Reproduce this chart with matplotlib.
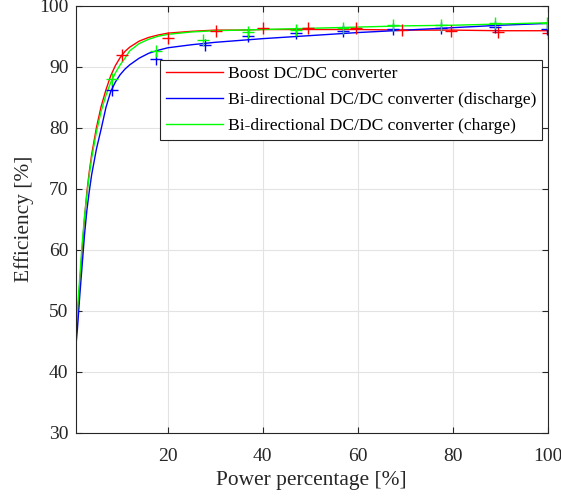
import numpy as np
import matplotlib
matplotlib.use('Agg')
import matplotlib.pyplot as plt

plt.rc('font', family='Liberation Serif', size=14)

# Measured points (markers)
boost_x = [10.3, 20.0, 30.2, 40.0, 49.6, 59.6, 69.4, 79.6, 89.6, 100.0]
boost_y = [91.9, 94.7, 95.9, 96.4, 96.4, 96.4, 96.1, 95.9, 95.7, 95.5]
dis_x = [8.2, 17.6, 27.8, 36.9, 47.0, 57.0, 67.5, 77.6, 88.8, 99.9]
dis_y = [86.2, 91.2, 93.6, 95.0, 95.6, 95.8, 96.2, 96.4, 96.5, 96.2]
chg_x = [8.2, 17.6, 27.4, 36.9, 47.0, 57.0, 67.5, 77.6, 88.8, 99.9]
chg_y = [88.0, 92.5, 94.3, 95.7, 96.1, 96.4, 96.8, 96.9, 97.1, 97.1]

# Fitted curves
curve_x = [0.6, 1.0, 1.5, 2.0, 2.5, 3.0, 3.5, 4.0, 5.0, 6.0, 7.0, 8.0, 9.0, 10.0,
           11.0, 12.0, 14.0, 16.0, 18.0, 20.0, 25.0, 30.0, 35.0, 40.0, 50.0, 60.0,
           70.0, 80.0, 90.0, 100.0]
boost_fit = [45.0, 48.5, 54.5, 60.0, 65.2, 69.5, 72.8, 75.6, 80.0, 83.5, 86.2, 88.5,
             90.2, 91.5, 92.5, 93.2, 94.2, 94.8, 95.2, 95.5, 95.8, 96.0, 96.0, 96.1,
             96.1, 96.1, 96.0, 96.0, 95.9, 95.9]
dis_fit = [43.5, 47.0, 52.5, 57.5, 62.5, 66.5, 69.6, 72.3, 76.5, 79.8, 83.3, 85.9,
           87.5, 88.7, 89.6, 90.3, 91.4, 92.2, 92.7, 93.1, 93.6, 94.0, 94.3, 94.6,
           95.1, 95.6, 96.0, 96.4, 96.8, 97.1]
chg_fit = [46.4, 50.0, 55.5, 61.0, 65.5, 69.0, 72.3, 75.0, 79.3, 82.7, 85.3, 87.4,
           89.0, 90.3, 91.4, 92.6, 93.8, 94.5, 95.0, 95.3, 95.7, 95.9, 96.0, 96.1,
           96.3, 96.5, 96.7, 96.8, 97.0, 97.2]

fig = plt.figure(figsize=(5.61, 4.97), dpi=100)
ax = fig.add_axes([0.1346, 0.1294, 0.8418, 0.8591])

ax.plot(curve_x, boost_fit, color='red', lw=1, label='Boost DC/DC converter')
ax.plot(curve_x, dis_fit, color='blue', lw=1, label='Bi-directional DC/DC converter (discharge)')
ax.plot(curve_x, chg_fit, color='lime', lw=1, label='Bi-directional DC/DC converter (charge)')

ax.plot(boost_x, boost_y, '+', color='red', ms=8.6, mew=1)
ax.plot(dis_x, dis_y, '+', color='blue', ms=8.6, mew=1)
ax.plot(chg_x, chg_y, '+', color='lime', ms=8.6, mew=1)

ax.set_xlim(0.6, 100)
ax.set_ylim(30, 100)
ax.set_xticks([20, 40, 60, 80, 100])
ax.set_yticks(np.arange(30, 101, 10))
ax.grid(True, color='#e3e3e3', lw=0.8)
ax.set_axisbelow(True)
ax.tick_params(direction='in', top=True, right=True, colors='#262626', length=4,
               labelsize=14, pad=5)
ax.tick_params(axis='x', pad=11)
for s in ax.spines.values():
    s.set_color('#262626')
    s.set_linewidth(0.8)

ax.set_xlabel('Power percentage [%]', color='#262626', fontsize=15.4, labelpad=4)
ax.set_ylabel('Efficiency [%]', color='#262626', fontsize=15.4, labelpad=4)

leg = ax.legend(loc='upper right', bbox_to_anchor=(0.9888, 0.8728), borderaxespad=0,
                fancybox=False, edgecolor='#262626', framealpha=1, handlelength=3.25,
                handletextpad=0.3, labelspacing=0.55, borderpad=0.35, fontsize=12.6)
leg.get_frame().set_linewidth(0.8)

fig.savefig('out.png', dpi=100)
